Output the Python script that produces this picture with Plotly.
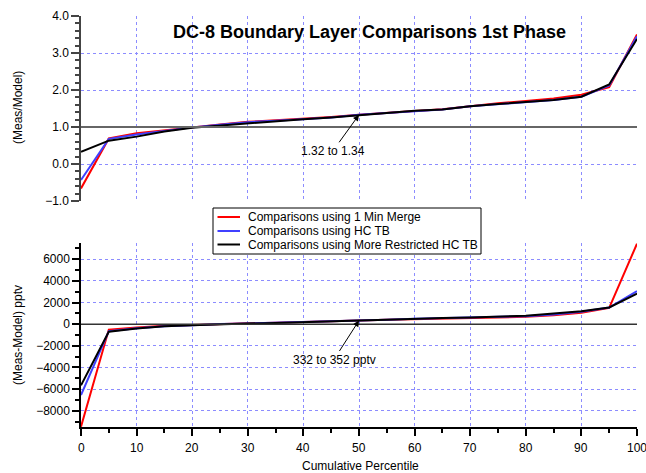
import plotly.graph_objects as go

percentile = [0, 5, 10, 15, 20, 25, 30, 35, 40, 45, 50, 55, 60, 65, 70, 75, 80, 85, 90, 95, 100]
x_tick_vals = [0, 10, 20, 30, 40, 50, 60, 70, 80, 90, 100]

ratio_merge = [-0.66, 0.69, 0.83, 0.92, 0.99, 1.07, 1.14, 1.18, 1.22, 1.27, 1.33, 1.37, 1.43, 1.48, 1.57, 1.64, 1.70, 1.77, 1.87, 2.08, 3.50]
ratio_hctb = [-0.43, 0.68, 0.80, 0.90, 0.99, 1.06, 1.13, 1.17, 1.21, 1.26, 1.33, 1.37, 1.42, 1.47, 1.56, 1.62, 1.67, 1.73, 1.82, 2.12, 3.45]
ratio_restr = [0.33, 0.63, 0.74, 0.88, 0.98, 1.04, 1.11, 1.16, 1.21, 1.26, 1.32, 1.36, 1.44, 1.47, 1.56, 1.62, 1.68, 1.73, 1.82, 2.15, 3.38]

diff_merge = [-9470, -500, -300, -150, -80, 30, 80, 130, 180, 250, 340, 400, 470, 520, 560, 620, 680, 820, 1050, 1500, 7440]
diff_hctb = [-6550, -650, -380, -200, -100, 20, 60, 120, 180, 250, 340, 420, 500, 560, 600, 660, 740, 900, 1150, 1540, 3050]
diff_restr = [-5650, -700, -400, -200, -100, 0, 60, 110, 170, 250, 340, 420, 520, 580, 620, 680, 770, 980, 1200, 1540, 2830]

names = ["Comparisons using 1 Min Merge", "Comparisons using HC TB", "Comparisons using More Restricted HC TB"]
colors = ["#ff0000", "#4040ff", "#000000"]

FONT = "Arial, Liberation Sans, sans-serif"

# plot-area geometry in pixels
L, R, T, B = 81, 637, 16, 427
W, H = R - L, B - T


def px(x):
    return (x - L) / W


def py(y):
    return (B - y) / H


fig = go.Figure()
for ys, nm, c in zip([ratio_merge, ratio_hctb, ratio_restr], names, colors):
    fig.add_trace(go.Scatter(x=percentile, y=ys, mode="lines", name=nm, showlegend=False,
                             line=dict(color=c, width=2), xaxis="x", yaxis="y"))
for ys, nm, c in zip([diff_merge, diff_hctb, diff_restr], names, colors):
    fig.add_trace(go.Scatter(x=percentile, y=ys, mode="lines", name=nm, showlegend=False,
                             line=dict(color=c, width=2), xaxis="x2", yaxis="y2"))

grid = dict(showgrid=True, gridcolor="#8c8cff", griddash="dot", gridwidth=1)

shapes = [
    dict(type="line", xref="x", yref="y", x0=0, x1=100, y0=1, y1=1,
         line=dict(color="#666666", width=2)),
    dict(type="line", xref="x2", yref="y2", x0=0, x1=100, y0=0, y1=0,
         line=dict(color="#333333", width=1.5)),
    dict(type="rect", xref="paper", yref="paper", x0=px(213), x1=px(481), y0=py(254), y1=py(208),
         fillcolor="white", line=dict(color="black", width=1), layer="above"),
]
annotations = [
    dict(text="<b>DC-8 Boundary Layer Comparisons 1st Phase</b>", xref="paper", yref="paper",
         x=px(369), y=py(32), xanchor="center", yanchor="middle",
         showarrow=False, font=dict(size=18)),
    dict(text="(Meas/Model)", xref="paper", yref="paper", x=px(18), y=py(108),
         textangle=-90, showarrow=False, xanchor="center", yanchor="middle", font=dict(size=12)),
    dict(text="(Meas-Model) pptv", xref="paper", yref="paper", x=px(18), y=py(335),
         textangle=-90, showarrow=False, xanchor="center", yanchor="middle", font=dict(size=12)),
    dict(text="Cumulative Percentile", xref="paper", yref="paper", x=px(360), y=py(466),
         showarrow=False, xanchor="center", yanchor="middle", font=dict(size=12)),
    dict(text="1.32 to 1.34", xref="x", yref="y", x=50, y=1.33, ax=-26, ay=36,
         showarrow=True, arrowhead=2, arrowsize=1.2, arrowwidth=1, arrowcolor="black",
         font=dict(size=12)),
    dict(text="332 to 352 pptv", xref="x2", yref="y2", x=50, y=340, ax=-25, ay=39,
         showarrow=True, arrowhead=2, arrowsize=1.2, arrowwidth=1, arrowcolor="black",
         font=dict(size=12)),
]
# x tick labels as text so that the label at the right edge is kept (cut by the page edge)
for v in x_tick_vals:
    annotations.append(dict(text=str(v), xref="x2", yref="paper", x=v, y=py(448),
                            xanchor="center", yanchor="middle", showarrow=False,
                            font=dict(size=12)))
# legend drawn by hand to match the compact row spacing
for row_y, nm, c in zip([217, 231, 244.5], names, colors):
    shapes.append(dict(type="line", xref="paper", yref="paper", x0=px(217.5), x1=px(240),
                       y0=py(row_y), y1=py(row_y), line=dict(color=c, width=2), layer="above"))
    annotations.append(dict(text=nm, xref="paper", yref="paper", x=px(246), y=py(row_y),
                            xanchor="left", yanchor="middle", showarrow=False, font=dict(size=12)))

fig.update_layout(
    width=646, height=473,
    margin=dict(l=L, r=646 - R, t=T, b=473 - B),
    paper_bgcolor="white", plot_bgcolor="white",
    font=dict(family=FONT, size=12, color="black"),
    showlegend=False,
    xaxis=dict(domain=[0, 1], range=[0, 100], anchor="y", showticklabels=False,
               showline=False, zeroline=False, ticks="", dtick=10, **grid),
    yaxis=dict(domain=[py(201), 1], range=[-1, 4], anchor="x", dtick=1, tickformat=".1f",
               showline=True, linecolor="#444", linewidth=1.5, zeroline=False,
               ticks="outside", ticklen=8, tickcolor="#444", tickwidth=1.5,
               minor=dict(dtick=0.2, ticks="outside", ticklen=4, tickcolor="#444", showgrid=False),
               **grid),
    xaxis2=dict(domain=[0, 1], range=[0, 100], anchor="y2", dtick=10, showticklabels=False,
                showline=True, linecolor="black", linewidth=1.5, zeroline=False,
                ticks="outside", ticklen=7, tickcolor="black", tickwidth=1.5,
                minor=dict(dtick=5, ticks="outside", ticklen=4, tickcolor="black", showgrid=False),
                **grid),
    yaxis2=dict(domain=[0, py(243)], range=[-9500, 7500], anchor="x2",
                tickvals=[-8000, -6000, -4000, -2000, 0, 2000, 4000, 6000],
                showline=True, linecolor="black", linewidth=1.5, zeroline=False,
                ticks="outside", ticklen=7, tickcolor="black", tickwidth=1.5,
                minor=dict(dtick=1000, ticks="outside", ticklen=4, tickcolor="black", showgrid=False),
                **grid),
    shapes=shapes,
    annotations=annotations,
)

fig.write_html("out.html", config={"displayModeBar": False},
               post_script="document.body.style.margin='0';")
